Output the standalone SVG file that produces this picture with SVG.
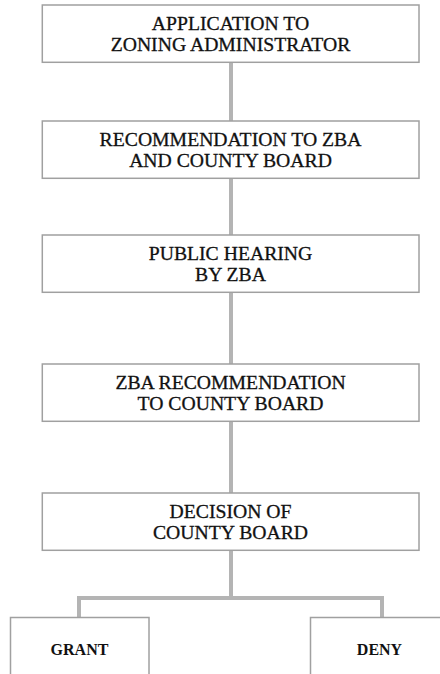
<svg xmlns="http://www.w3.org/2000/svg" width="440" height="674" viewBox="0 0 440 674">
<style>
.box{fill:#fff;stroke:#a0a0a0;stroke-width:1.5}
.c{fill:none;stroke:#b4b4b4;stroke-width:4}
</style>
<rect width="440" height="674" fill="#fff"/>
<g id="connectors">
<line class="c" x1="231" y1="62" x2="231" y2="121"/>
<line class="c" x1="231" y1="178" x2="231" y2="235"/>
<line class="c" x1="231" y1="292" x2="231" y2="364"/>
<line class="c" x1="231" y1="421" x2="231" y2="493"/>
<line class="c" x1="231" y1="550" x2="231" y2="598"/>
<polyline class="c" points="79,618 79,598 382,598 382,618"/>
</g>
<g font-family="Liberation Serif, Times New Roman, serif" font-size="19.7" fill="#111" stroke="#111" stroke-width="0.3" text-anchor="middle">
<g id="n1"><rect class="box" x="42.3" y="5" width="376.7" height="57.3"/>
<text x="230.5" y="30">APPLICATION TO</text><text x="230.5" y="51">ZONING ADMINISTRATOR</text></g>
<g id="n2"><rect class="box" x="42.3" y="121" width="376.7" height="57.3"/>
<text x="230.5" y="146">RECOMMENDATION TO ZBA</text><text x="230.5" y="167">AND COUNTY BOARD</text></g>
<g id="n3"><rect class="box" x="42.3" y="235" width="376.7" height="57.3"/>
<text x="230.5" y="260">PUBLIC HEARING</text><text x="230.5" y="281">BY ZBA</text></g>
<g id="n4"><rect class="box" x="42.3" y="364" width="376.7" height="57.3"/>
<text x="230.5" y="389">ZBA RECOMMENDATION</text><text x="230.5" y="410">TO COUNTY BOARD</text></g>
<g id="n5"><rect class="box" x="42.3" y="493" width="376.7" height="57.3"/>
<text x="230.5" y="518">DECISION OF</text><text x="230.5" y="539">COUNTY BOARD</text></g>
</g>
<g font-family="Liberation Serif, Times New Roman, serif" font-size="16" font-weight="bold" fill="#111" text-anchor="middle">
<g id="grant"><rect class="box" x="10.5" y="617.5" width="138.5" height="70"/>
<text x="79.5" y="654.5">GRANT</text></g>
<g id="deny"><rect class="box" x="310.5" y="617.5" width="138.5" height="70"/>
<text x="379.5" y="654.5">DENY</text></g>
</g>
</svg>
